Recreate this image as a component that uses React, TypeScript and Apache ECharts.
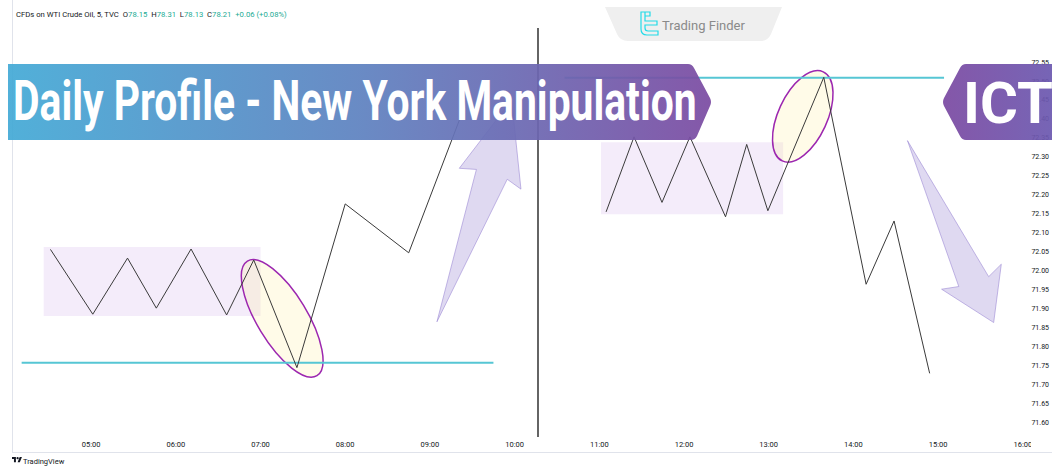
import React, { useEffect, useRef } from "react";
import * as echarts from "echarts";

// ---------- data (hours of day, price) ----------
const timeLabels = ["05:00", "06:00", "07:00", "08:00", "09:00", "10:00", "11:00", "12:00", "13:00", "14:00", "15:00", "16:00"];

const leftSwingTimes = [4.52, 5.02, 5.43, 5.77, 6.18, 6.6, 6.92, 7.43, 8.0, 8.75, 9.38];
const leftSwingPrices = [72.057, 71.886, 72.034, 71.902, 72.058, 71.884, 72.029, 71.745, 72.177, 72.048, 72.417];

const rightSwingTimes = [11.08, 11.41, 11.74, 12.07, 12.49, 12.74, 12.99, 13.65, 14.15, 14.48, 14.9];
const rightSwingPrices = [72.156, 72.354, 72.181, 72.354, 72.143, 72.334, 72.159, 72.511, 71.965, 72.132, 71.73];

// liquidity levels
const levelStart = [4.18, 10.59];
const levelEnd = [9.75, 15.07];
const levelPrice = [71.758, 72.51];

// consolidation boxes
const boxStart = [4.44, 11.02];
const boxEnd = [7.0, 13.17];
const boxHigh = [72.063, 72.34];
const boxLow = [71.881, 72.15];

// manipulation highlights (centres)
const highlightTimes = [7.256, 13.402];
const highlightPrices = [71.875, 72.408];

// direction arrows (outline vertices)
const arrowUpTimes = [9.083, 9.549, 9.347, 9.965, 10.075, 9.913];
const arrowUpPrices = [71.866, 72.268, 72.271, 72.451, 72.216, 72.242];
const arrowDownTimes = [14.638, 15.244, 15.041, 15.656, 15.746, 15.597];
const arrowDownPrices = [72.344, 71.959, 71.952, 71.864, 72.018, 71.985];

const TITLE = "Daily Profile - New York Manipulation";

let shapesRegistered = false;
function registerShapes() {
  if (shapesRegistered) return;
  shapesRegistered = true;
  echarts.graphic.registerShape(
    "titleBanner",
    echarts.graphic.extendPath(
      "M8 64 H688 Q692 64 694 68 L710 98 Q712 102 710 106 L697 136 Q695 140 691 140 H8 Z",
      {}
    )
  );
  echarts.graphic.registerShape(
    "ictBanner",
    echarts.graphic.extendPath(
      "M966 64 H1052 V140 H966 Q962 140 960 136 L944 106 Q942 102 944 98 L960 68 Q962 64 966 64 Z",
      {}
    )
  );
  echarts.graphic.registerShape(
    "tfBadge",
    echarts.graphic.extendPath("M605 7 H782 L771 34 Q768 41 760 41 H628 Q620 41 617 34 Z", {})
  );
  echarts.graphic.registerShape(
    "tfIcon",
    echarts.graphic.extendPath(
      "M641 12 H645 V21 H657 V25 H645 V28 Q645 31 648 31 H658 V35 H647 Q641 35 641 29 Z M645 12 H650 V16 H645",
      {}
    )
  );
  echarts.graphic.registerShape(
    "tvLogo",
    echarts.graphic.extendPath(
      "M14 22H7V11H0V4h14v18zM28 22h-8l7.5-18h8L28 22zM24 8a4 4 0 1 1-8 0a4 4 0 1 1 8 0z",
      {}
    )
  );
}

export default function App() {
  const ref = useRef<HTMLDivElement>(null);

  useEffect(() => {
    if (!ref.current) return;
    registerShapes();
    const chart = echarts.init(ref.current, undefined, { renderer: "svg" });

    const ctx = document.createElement("canvas").getContext("2d");
    let titleScale = 0.62;
    if (ctx) {
      ctx.font = "bold 56px Roboto";
      const w = ctx.measureText(TITLE).width;
      if (w > 0) titleScale = 684 / w;
    }

    const zip = (a: number[], b: number[]) => a.map((v, i) => [v, b[i]]);

    const ellipseSizes = [
      { rx: 25, ry: 67, rot: 0.546 },
      { rx: 24.5, ry: 49, rot: -0.431 },
    ];
    const arrows = [zip(arrowUpTimes, arrowUpPrices), zip(arrowDownTimes, arrowDownPrices)];

    const lineStyle = { color: "#3a3a3a", width: 1 };

    const option: any = {
      animation: false,
      backgroundColor: "#ffffff",
      grid: { left: 6.4, right: 24.4, top: 62.55, bottom: 45.4, containLabel: false },
      xAxis: {
        type: "value",
        min: 4,
        max: 16,
        interval: 1,
        axisLine: { show: false },
        axisTick: { show: false },
        splitLine: { show: false },
        axisLabel: {
          showMinLabel: false,
          margin: 18,
          fontSize: 7.5,
          fontFamily: "Roboto",
          color: "#131722",
          formatter: (v: number) => timeLabels[Math.round(v) - 5] ?? "",
        },
      },
      yAxis: {
        type: "value",
        position: "right",
        min: 71.6,
        max: 72.55,
        interval: 0.05,
        axisLine: { show: false },
        axisTick: { show: false },
        splitLine: { show: false },
        axisLabel: {
          margin: 8.6,
          fontSize: 7,
          fontFamily: "Roboto",
          color: "#131722",
          formatter: (v: number) => v.toFixed(2),
        },
      },
      series: [
        {
          type: "custom",
          name: "boxes",
          z: 1,
          silent: true,
          encode: { x: [0, 1], y: [2, 3] },
          data: boxStart.map((s, i) => [s, boxEnd[i], boxHigh[i], boxLow[i]]),
          renderItem: (params: any, api: any) => {
            const a = api.coord([api.value(0), api.value(2)]);
            const b = api.coord([api.value(1), api.value(3)]);
            return {
              type: "rect",
              shape: { x: a[0], y: a[1], width: b[0] - a[0], height: b[1] - a[1] },
              style: { fill: "rgba(180,130,220,0.15)" },
            };
          },
        },
        {
          type: "custom",
          name: "arrows",
          z: 1,
          silent: true,
          encode: { x: 0, y: 1 },
          data: arrows.map((pts) => pts[0]),
          renderItem: (params: any, api: any) => {
            const pts = arrows[params.dataIndex].map((p) => api.coord(p));
            return {
              type: "polygon",
              shape: { points: pts },
              style: { fill: "rgba(150,130,210,0.3)", stroke: "rgba(150,130,210,0.55)", lineWidth: 1 },
            };
          },
        },
        {
          type: "custom",
          name: "highlights",
          z: 2,
          silent: true,
          encode: { x: 0, y: 1 },
          data: zip(highlightTimes, highlightPrices),
          renderItem: (params: any, api: any) => {
            const c = api.coord([api.value(0), api.value(1)]);
            const s = ellipseSizes[params.dataIndex];
            return {
              type: "ellipse",
              x: c[0],
              y: c[1],
              rotation: s.rot,
              shape: { cx: 0, cy: 0, rx: s.rx, ry: s.ry },
              style: { fill: "rgba(255,235,150,0.22)", stroke: "#9c27b0", lineWidth: 1.5 },
            };
          },
        },
        {
          type: "line",
          name: "levelA",
          z: 3,
          silent: true,
          showSymbol: false,
          data: [
            [levelStart[0], levelPrice[0]],
            [levelEnd[0], levelPrice[0]],
          ],
          lineStyle: { color: "#56c6d4", width: 2 },
        },
        {
          type: "line",
          name: "levelB",
          z: 3,
          silent: true,
          showSymbol: false,
          data: [
            [levelStart[1], levelPrice[1]],
            [levelEnd[1], levelPrice[1]],
          ],
          lineStyle: { color: "#56c6d4", width: 2 },
        },
        {
          type: "line",
          name: "left",
          z: 4,
          silent: true,
          showSymbol: false,
          data: zip(leftSwingTimes, leftSwingPrices),
          lineStyle,
        },
        {
          type: "line",
          name: "right",
          z: 4,
          silent: true,
          showSymbol: false,
          data: zip(rightSwingTimes, rightSwingPrices),
          lineStyle,
        },
      ],
      graphic: [
        { type: "line", z: 5, silent: true, shape: { x1: 12.5, y1: 0, x2: 12.5, y2: 452 }, style: { stroke: "#e0e3eb", lineWidth: 1 } },
        { type: "line", z: 5, silent: true, shape: { x1: 12, y1: 452.5, x2: 1052, y2: 452.5 }, style: { stroke: "#e0e3eb", lineWidth: 1 } },
        { type: "line", z: 5, silent: true, shape: { x1: 538, y1: 28, x2: 538, y2: 437 }, style: { stroke: "#111111", lineWidth: 1.3 } },
        { type: "rect", z: 50, silent: true, shape: { x: 1031, y: 436, width: 21, height: 15 }, style: { fill: "#ffffff" } },
        {
          type: "text",
          z: 60,
          silent: true,
          x: 16,
          y: 14.5,
          style: {
            text: "{a|CFDs on WTI Crude Oil, 5, TVC}  {a|O}{g|78.15}  {a|H}{g|78.31}  {a|L}{g|78.13}  {a|C}{g|78.21}  {g|+0.06 (+0.08%)}",
            font: "7.7px Roboto",
            fill: "#131722",
            verticalAlign: "middle",
            rich: {
              a: { fill: "#131722", font: "7.7px Roboto" },
              g: { fill: "#22ab94", font: "7.7px Roboto" },
            },
          },
        },
        { type: "tfBadge", z: 60, silent: true, style: { fill: "#efefef" } },
        { type: "tfIcon", z: 61, silent: true, style: { fill: "none", stroke: "#22dbe8", lineWidth: 1.2 } },
        {
          type: "text",
          z: 61,
          silent: true,
          x: 662,
          y: 25,
          style: { text: "Trading Finder", font: "13px Roboto", fill: "#8a8a8a", verticalAlign: "middle" },
        },
        {
          type: "titleBanner",
          z: 80,
          silent: true,
          style: {
            opacity: 0.93,
            fill: {
              type: "linear",
              x: 0,
              y: 0,
              x2: 1,
              y2: 0,
              colorStops: [
                { offset: 0, color: "#44aad6" },
                { offset: 0.5, color: "#5e82c0" },
                { offset: 1, color: "#7b4ba2" },
              ],
            },
          },
        },
        {
          type: "text",
          z: 81,
          silent: true,
          x: 13,
          y: 101,
          scaleX: titleScale,
          style: { text: TITLE, font: "bold 56px Roboto", fill: "#ffffff", verticalAlign: "middle", align: "left" },
        },
        {
          type: "ictBanner",
          z: 80,
          silent: true,
          style: {
            opacity: 0.93,
            fill: {
              type: "linear",
              x: 0,
              y: 0,
              x2: 1,
              y2: 0,
              colorStops: [
                { offset: 0, color: "#7b4aa2" },
                { offset: 1, color: "#6c59b0" },
              ],
            },
          },
        },
        {
          type: "text",
          z: 81,
          silent: true,
          x: 963,
          y: 103,
          style: { text: "ICT", font: "bold 58px Roboto", fill: "#ffffff", verticalAlign: "middle", align: "left" },
        },
        { type: "tvLogo", z: 60, silent: true, x: 12, y: 456, scaleX: 0.28, scaleY: 0.28, style: { fill: "#131722" } },
        {
          type: "text",
          z: 60,
          silent: true,
          x: 23,
          y: 461,
          style: { text: "TradingView", font: "7.5px Roboto", fill: "#131722", verticalAlign: "middle" },
        },
      ],
    };

    chart.setOption(option);
    return () => chart.dispose();
  }, []);

  return <div ref={ref} style={{ position: "absolute", left: 0, top: 0, width: 1052, height: 468 }} />;
}
